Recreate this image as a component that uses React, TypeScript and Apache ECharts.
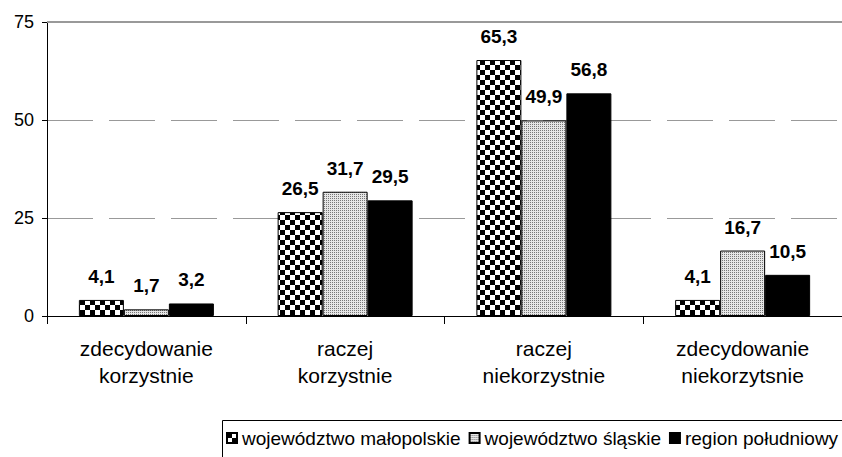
import React, { useEffect, useRef } from "react";
import * as echarts from "echarts";

const categories = ["zdecydowanie\nkorzystnie", "raczej\nkorzystnie", "raczej\nniekorzystnie", "zdecydowanie\nniekorzytsnie"];
const seriesNames = ["województwo małopolskie", "województwo śląskie", "region południowy"];
const malopolskie = [4.1, 26.5, 65.3, 4.1];
const slaskie = [1.7, 31.7, 49.9, 16.7];
const poludniowy = [3.2, 29.5, 56.8, 10.5];
const yTicks = { min: 0, max: 75, interval: 25 };

const FONT = "'Liberation Sans', Arial, sans-serif";

function makeChecker(): HTMLCanvasElement {
  const c = document.createElement("canvas");
  c.width = 10;
  c.height = 10;
  const ctx = c.getContext("2d")!;
  ctx.fillStyle = "#ffffff";
  ctx.fillRect(0, 0, 10, 10);
  ctx.fillStyle = "#000000";
  ctx.fillRect(0, 0, 5, 5);
  ctx.fillRect(5, 5, 5, 5);
  return c;
}

function makeDots(): HTMLCanvasElement {
  const c = document.createElement("canvas");
  c.width = 2;
  c.height = 2;
  const ctx = c.getContext("2d")!;
  ctx.fillStyle = "#e6e6e6";
  ctx.fillRect(0, 0, 2, 2);
  ctx.fillStyle = "#777777";
  ctx.fillRect(0, 0, 1, 1);
  return c;
}

export default function App() {
  const ref = useRef<HTMLDivElement>(null);
  useEffect(() => {
    if (!ref.current) return;
    const chart = echarts.init(ref.current, null, { renderer: "svg" });
    const checker = makeChecker();
    const dots = makeDots();
    const fmt = (p: any) => Number(p.value).toFixed(1).replace(".", ",");
    const label = {
      show: true,
      position: "top",
      distance: 14,
      formatter: fmt,
      fontFamily: FONT,
      fontSize: 19,
      fontWeight: "bold",
      color: "#000",
    };
    const common = {
      type: "bar",
      barWidth: 45,
      barGap: "0%",
      label,
    };
    chart.setOption({
      animation: false,
      backgroundColor: "#ffffff",
      grid: { left: 47, top: 22, bottom: 141, right: -9, containLabel: false },
      legend: {
        left: 226,
        top: 428,
        width: 620,
        padding: 0,
        itemWidth: 10,
        itemHeight: 10,
        itemGap: 8,
        icon: "rect",
        textStyle: { fontFamily: FONT, fontSize: 19, color: "#000", lineHeight: 20, padding: [0, 0, 0, 0] },
        data: seriesNames,
      },
      graphic: [
        {
          type: "rect",
          shape: { x: 222.5, y: 420.5, width: 640, height: 60 },
          style: { fill: "none", stroke: "#000", lineWidth: 1 },
          silent: true,
        },
      ],
      xAxis: {
        type: "category",
        data: categories,
        axisLine: { lineStyle: { color: "#000", width: 1 } },
        axisTick: { show: true, length: 8, lineStyle: { color: "#000" } },
        axisLabel: { fontFamily: FONT, fontSize: 21, lineHeight: 27, color: "#000", margin: 19, interval: 0 },
      },
      yAxis: {
        type: "value",
        min: yTicks.min,
        max: yTicks.max,
        interval: yTicks.interval,
        axisLine: { show: true, lineStyle: { color: "#000", width: 1 } },
        axisTick: { show: true, length: 5, lineStyle: { color: "#000" } },
        axisLabel: { fontFamily: FONT, fontSize: 18, color: "#000", margin: 13 },
        splitLine: { show: true, lineStyle: { color: "#999", width: 1, type: [46, 16] } },
      },
      series: [
        {
          ...common,
          name: seriesNames[0],
          data: malopolskie,
          itemStyle: {
            color: { image: checker, repeat: "repeat", imageWidth: 10, imageHeight: 10 },
            borderColor: "#000",
            borderWidth: 1,
          },
          markLine: {
            silent: true,
            symbol: ["none", "none"],
            label: { show: false },
            lineStyle: { color: "#999", width: 2, type: "solid" },
            data: [{ yAxis: yTicks.max }],
          },
        },
        {
          ...common,
          name: seriesNames[1],
          data: slaskie,
          itemStyle: {
            color: { image: dots, repeat: "repeat", imageWidth: 2, imageHeight: 2 },
            borderColor: "#000",
            borderWidth: 1,
          },
        },
        {
          ...common,
          name: seriesNames[2],
          data: poludniowy,
          itemStyle: { color: "#000", borderColor: "#000", borderWidth: 1 },
        },
      ],
    });
    return () => chart.dispose();
  }, []);
  return (
    <div
      ref={ref}
      style={{ position: "absolute", left: 0, top: 0, width: 842, height: 457 }}
    />
  );
}
